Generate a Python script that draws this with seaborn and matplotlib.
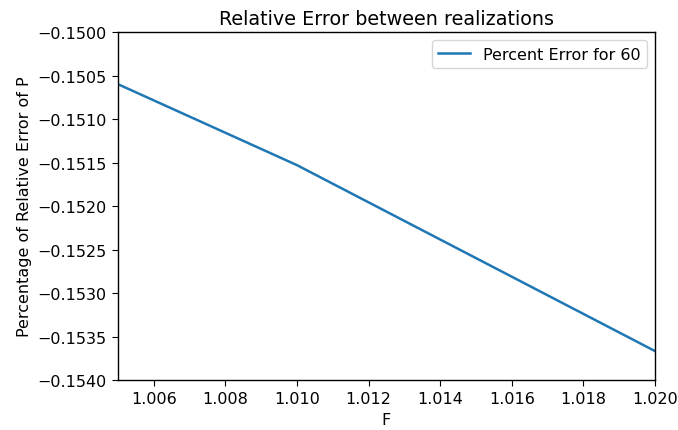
import matplotlib
matplotlib.use("Agg")
import matplotlib.pyplot as plt
import seaborn as sns
import pandas as pd

# Relative error of P against F
f_values = [1.005, 1.010, 1.020]
rel_error = [-0.150598, -0.151529, -0.153667]
series_label = "Percent Error for 60"

df = pd.DataFrame({"F": f_values, "err": rel_error})

plt.rcParams.update({"font.size": 11.5, "axes.linewidth": 1.0})

fig = plt.figure(figsize=(6.78, 4.31), dpi=100)
ax = fig.add_axes([0.174, 0.116, 0.792, 0.807])
sns.lineplot(data=df, x="F", y="err", ax=ax, color="#1f77b4", label=series_label, linewidth=1.8)

ax.set_xlim(1.005, 1.020)
ax.set_ylim(-0.154, -0.150)
ax.set_xticks([1.006, 1.008, 1.010, 1.012, 1.014, 1.016, 1.018, 1.020])
ax.set_yticks([-0.1540, -0.1535, -0.1530, -0.1525, -0.1520, -0.1515, -0.1510, -0.1505, -0.1500])
ax.set_yticklabels([f"{v:.4f}".replace("-", "\u2212") for v in ax.get_yticks()])
ax.set_xticklabels([f"{v:.3f}" for v in ax.get_xticks()])
ax.tick_params(labelsize=11.5, length=4.5)
ax.set_xlabel("F", fontsize=11.5)
ax.set_ylabel("Percentage of Relative Error of P", fontsize=11.5)
ax.set_title("Relative Error between realizations", fontsize=13.8)
ax.legend(loc="upper right", fontsize=11.5)

fig.savefig("out.png", dpi=100)
